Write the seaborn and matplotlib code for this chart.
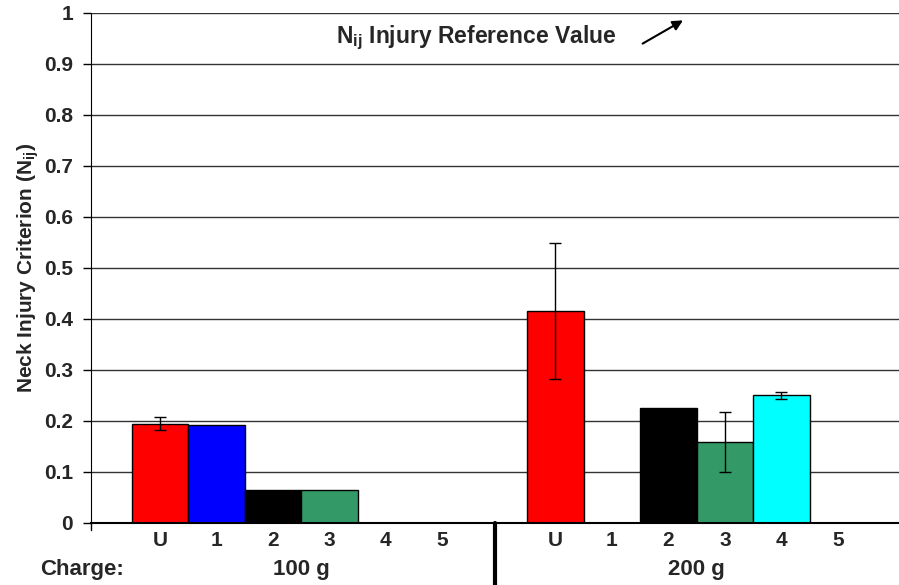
import seaborn as sns
import pandas as pd
import numpy as np
import matplotlib.pyplot as plt

# data
labels = ["U", "1", "2", "3", "4", "5"]
charges = ["100 g", "200 g"]
nij_100 = [0.195, 0.193, 0.064, 0.065, 0.0, 0.0]
err_100 = [0.013, 0.0, 0.0, 0.0, 0.0, 0.0]
nij_200 = [0.416, 0.0, 0.226, 0.158, 0.250, 0.0]
err_200 = [0.133, 0.0, 0.0, 0.059, 0.006, 0.0]
bar_colors = ["#FF0000", "#0000FF", "#000000", "#339966", "#00FFFF", "#FFFFFF"]
yticks = [0, 0.1, 0.2, 0.3, 0.4, 0.5, 0.6, 0.7, 0.8, 0.9, 1]

df = pd.DataFrame({
    "slot": [c + "|" + l for c in charges for l in labels],
    "label": labels * 2,
    "nij": nij_100 + nij_200,
    "err": err_100 + err_200,
})
order = [charges[0] + "|" + l for l in labels] + ["gap"] + [charges[1] + "|" + l for l in labels]

sns.set_style("white")
plt.rcParams['font.family'] = ['Liberation Sans', 'DejaVu Sans']
plt.rcParams['font.weight'] = 'bold'
plt.rcParams['mathtext.fontset'] = 'custom'
plt.rcParams['mathtext.rm'] = 'Liberation Sans:bold'
plt.rcParams['mathtext.it'] = 'Liberation Sans:bold'
plt.rcParams['mathtext.bf'] = 'Liberation Sans:bold'

fig = plt.figure(figsize=(8.99, 5.85), dpi=100)
ax = fig.add_axes([0.1012, 0.106, 0.8988, 0.872])

sns.barplot(data=df, x="slot", y="nij", hue="label", order=order, hue_order=labels,
            palette=bar_colors, dodge=False, width=1.0, saturation=1,
            edgecolor="black", linewidth=1, errorbar=None, legend=False, ax=ax)

# error bars
pos = np.array([order.index(s) for s in df["slot"]])
has_err = df["err"].values > 0
ax.errorbar(pos[has_err], df["nij"].values[has_err], yerr=df["err"].values[has_err],
            fmt='none', ecolor='black', elinewidth=1, capsize=4, capthick=1)

x0 = -1.22
ax.set_xlim(x0, 13.08)
ax.set_ylim(0, 1)
ax.set_yticks(yticks)
ax.set_yticklabels([("%g" % t) for t in yticks])
ax.set_xticks(range(len(order)))
ax.set_xticklabels(labels + [""] + labels)
ax.tick_params(axis='y', which='major', labelsize=15, length=6, width=1, pad=7, left=True, color='black')
ax.tick_params(axis='x', which='major', labelsize=15, length=0, pad=6)
ax.yaxis.grid(True, color='#333333', linewidth=1)
ax.set_axisbelow(True)
for s in ['top', 'right']:
    ax.spines[s].set_visible(False)
ax.spines['left'].set_color('black')
ax.spines['bottom'].set_color('black')
ax.spines['bottom'].set_linewidth(1.5)
ax.plot([x0, x0], [0, -0.014], color='black', lw=1, clip_on=False)
ax.set_xlabel('')
ax.set_ylabel('Neck Injury Criterion (N$_{ij}$)', fontsize=15, fontweight='bold', labelpad=2)

# reference value note
ax.text(5.6, 0.952, 'N$_{ij}$ Injury Reference Value', fontsize=16.5, fontweight='bold',
        ha='center', va='center')
ax.annotate('', xy=(9.3, 0.988), xytext=(8.5, 0.937),
            arrowprops=dict(arrowstyle='-|>', color='black', lw=1.5, mutation_scale=15))

# charge labels under the axis
ax.text(-1.38, -0.092, 'Charge:', fontsize=16, fontweight='bold', ha='center', va='center', clip_on=False)
ax.text(2.5, -0.092, charges[0], fontsize=16, fontweight='bold', ha='center', va='center', clip_on=False)
ax.text(9.5, -0.092, charges[1], fontsize=16, fontweight='bold', ha='center', va='center', clip_on=False)
ax.plot([5.93, 5.93], [0, -0.13], color='black', lw=3, clip_on=False)

fig.savefig('out.png', dpi=100)
